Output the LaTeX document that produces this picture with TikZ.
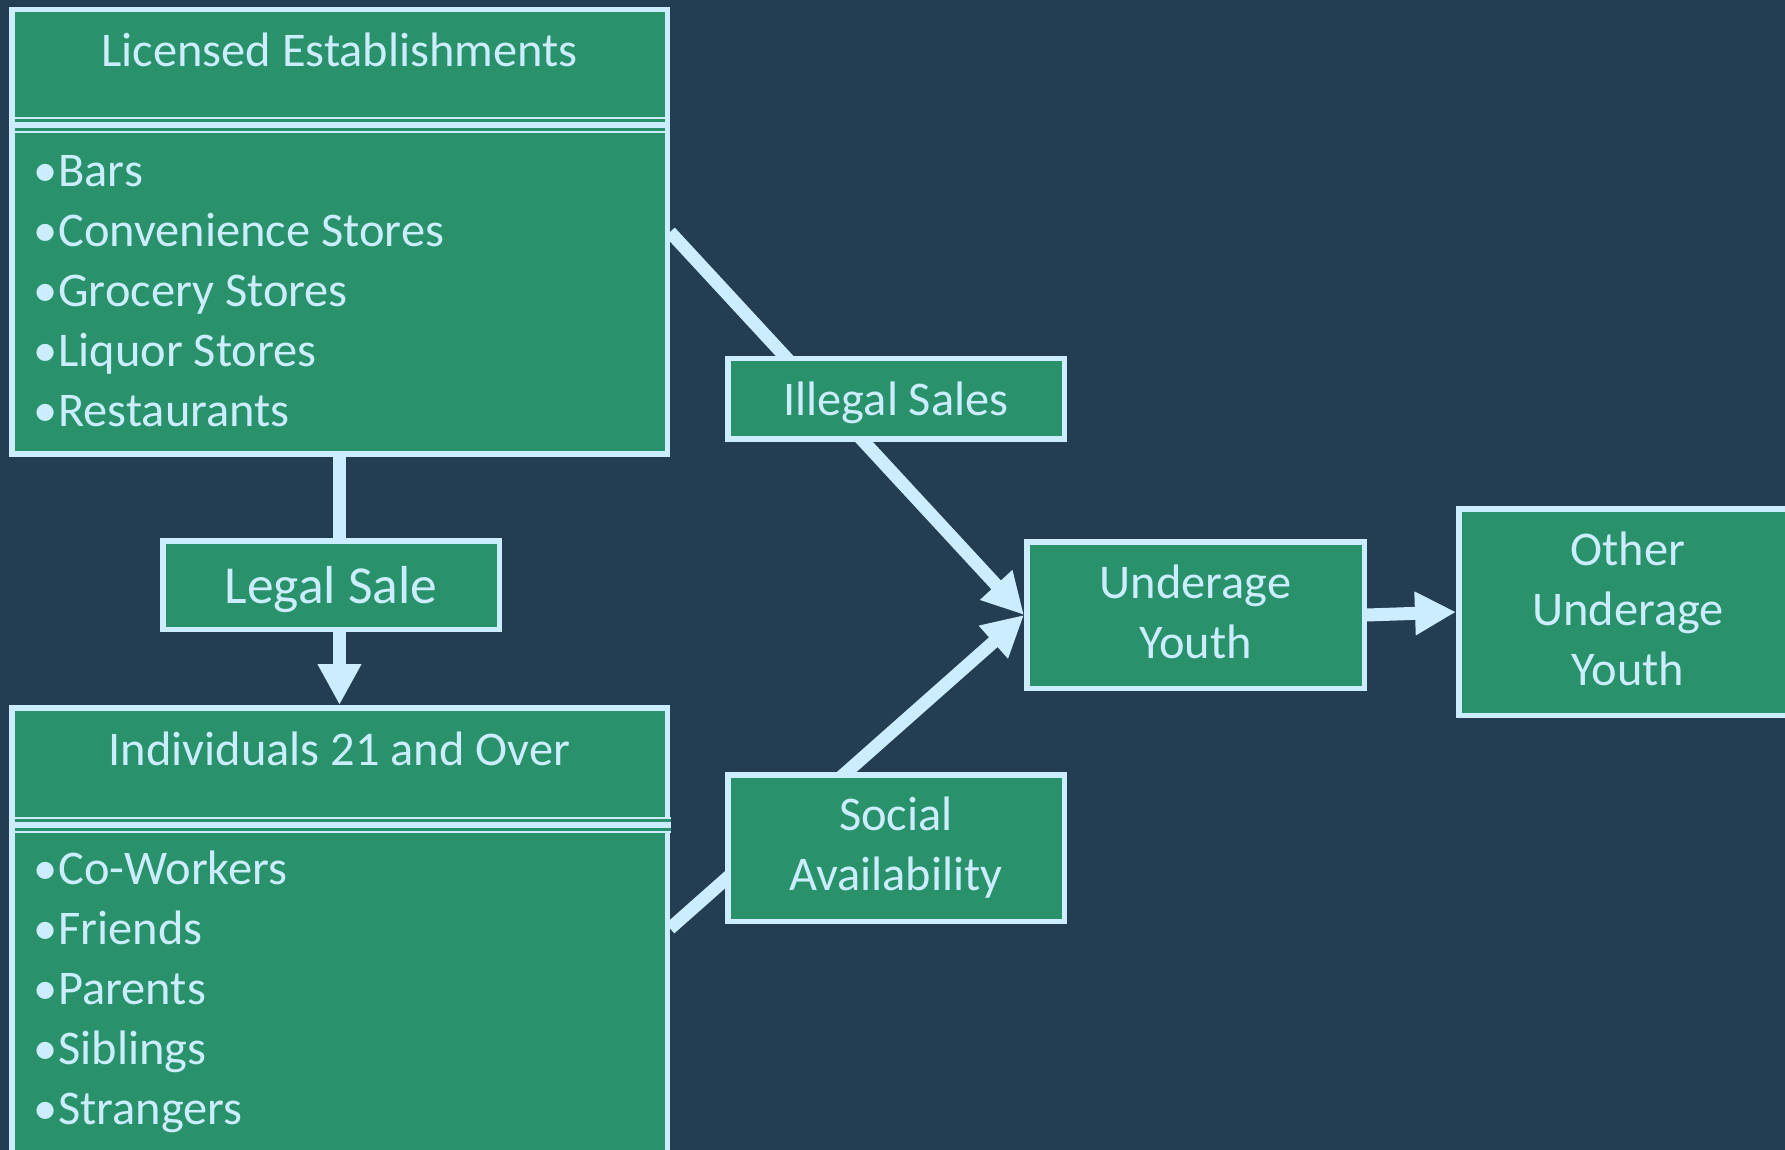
\documentclass[tikz,border=0pt]{standalone}
\usepackage{fontspec}
\setmainfont{Carlito}
\usetikzlibrary{arrows.meta,calc}
\definecolor{bgc}{RGB}{35,61,82}
\definecolor{boxg}{RGB}{41,146,106}
\definecolor{lite}{RGB}{204,237,255}
\pgfdeclarelayer{edges}
\pgfsetlayers{edges,main}
\newcommand\fsz{\fontsize{24.2pt}{30pt}\selectfont}
\newcommand\fbig{\fontsize{26.75pt}{32pt}\selectfont}
\newcommand\bul{\makebox[12.5pt][l]{•}}
\begin{document}
\begin{tikzpicture}[x=0.5pt,y=-0.5pt,
  box/.style={draw=lite, fill=boxg, line width=2.75pt, inner sep=0pt, text=lite, align=center, font=\fsz},
  txt/.style={inner sep=0pt, text=lite, font=\fsz},
  conn/.style={draw=lite, line width=6.5pt},
  tip/.style={-{Triangle[length=20.5pt,width=20.5pt]}}]
\useasboundingbox (0,0) rectangle (1785,1150);
\clip (0,0) rectangle (1785,1150);

% boxes
\node[box, minimum width=327.75pt, minimum height=222.25pt] (box1) at (339.5,232) {};
\node[box, minimum width=327.75pt, minimum height=224.75pt] (box2) at (339.5,932.5) {};
\node[box, font=\fbig, text depth=0pt, minimum width=168.25pt, minimum height=44.25pt] (legal) at (331,585) {Legal Sale};
\node[box, text depth=0pt, minimum width=168.25pt, minimum height=40.25pt] (illegal) at (896,399) {Illegal Sales};
\node[box, minimum width=168.25pt, minimum height=73.25pt] (social) at (896,848) {Social\\Availability};
\node[box, text depth=3.4pt, minimum width=168.75pt, minimum height=73.25pt] (uy) at (1195.5,615) {Underage\\Youth};
\node[box, text depth=2.9pt, minimum width=169.25pt, minimum height=103.25pt] (other) at (1628,612) {Other\\Underage\\Youth};

% separators
\fill[lite] (14.5,117) rectangle (664.5,133);
\draw[boxg, line width=1.5pt] (14.5,120.5) -- (664.5,120.5);
\draw[boxg, line width=1.5pt] (14.5,129.5) -- (664.5,129.5);
\fill[lite] (14.5,817) rectangle (671,833);
\draw[boxg, line width=1.5pt] (14.5,820.5) -- (671,820.5);
\draw[boxg, line width=1.5pt] (14.5,829.5) -- (671,829.5);

% titles and lists
\node[txt, anchor=base] (t1) at (339.5,67) {Licensed Establishments};
\node[txt, anchor=base west] (a1) at (33,187) {\bul Bars};
\node[txt, anchor=base west] (a2) at (33,247) {\bul Convenience Stores};
\node[txt, anchor=base west] (a3) at (33,307) {\bul Grocery Stores};
\node[txt, anchor=base west] (a4) at (33,367) {\bul Liquor Stores};
\node[txt, anchor=base west] (a5) at (33,427) {\bul Restaurants};

\node[txt, anchor=base] (t2) at (339.5,765) {Individuals 21 and Over};
\node[txt, anchor=base west] (c1) at (33,884) {\bul Co-Workers};
\node[txt, anchor=base west] (c2) at (33,944) {\bul Friends};
\node[txt, anchor=base west] (c3) at (33,1004) {\bul Parents};
\node[txt, anchor=base west] (c4) at (33,1064) {\bul Siblings};
\node[txt, anchor=base west] (c5) at (33,1124) {\bul Strangers};

% background and connectors (behind boxes)
\begin{pgfonlayer}{edges}
\fill[bgc] (0,0) rectangle (1785,1150);
\draw[conn] (box1.south) -- (box1.south |- legal.north);
\draw[conn, tip] (legal.south -| box1.south) -- (box2.north);
\draw[conn, tip] (box1.east) -- (uy.west);
\draw[conn, tip] ([yshift=2pt]box2.east) -- (uy.west);
\draw[conn, tip] (uy.east) -- (other.west);
\end{pgfonlayer}
\end{tikzpicture}
\end{document}
